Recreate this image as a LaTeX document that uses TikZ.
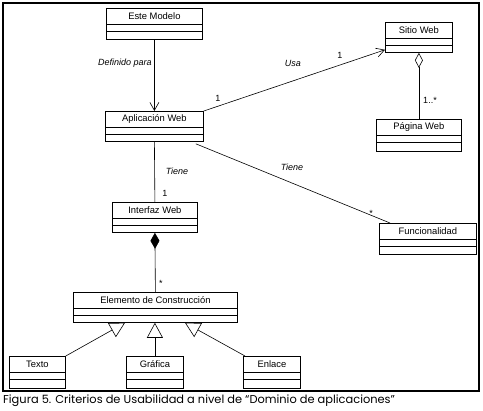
\documentclass[tikz,border=0pt]{standalone}
\usepackage{fontspec}
\setmainfont{Liberation Sans}
\newfontfamily\capfont{Poppins}
\usetikzlibrary{arrows.meta,calc}
\tikzset{
  clsbox/.style={draw, line width=0.8pt, inner sep=0pt, fill=white},
  clsline/.style={line width=0.6pt},
  clstext/.style={font=\fontsize{9.4}{10}\selectfont, inner sep=0pt},
  lbl/.style={font=\fontsize{9}{10}\selectfont, inner sep=0pt},
  ilbl/.style={font=\fontsize{9}{10}\selectfont\itshape, inner sep=0pt},
  conn/.style={line width=0.6pt},
  navarrow/.style={conn, -{Straight Barb[length=8pt,width=9pt,line width=0.6pt]}},
  genarrow/.style={conn, -{Triangle[open,length=15pt,width=16pt,line width=0.6pt]}},
  aggr/.style={conn, {Diamond[open,length=15pt,width=8pt,line width=0.6pt]}-},
  compo/.style={conn, {Diamond[length=16pt,width=9pt]}-},
}
\newcommand\umlcls[6]{%
  \node[clsbox, minimum width={(#4-#2)*1pt}, minimum height={(#5-#3)*1pt}, anchor=north west] (#1) at (#2,#3) {};
  \draw[clsline] ($(#1.north west)+(0,16)$) -- ($(#1.north east)+(0,16)$);
  \draw[clsline] ($(#1.north west)+(0,23)$) -- ($(#1.north east)+(0,23)$);
  \node[clstext] (#1t) at ($(#1.north)+(0,8.5)$) {#6};
}
\begin{document}
\begin{tikzpicture}[x=1pt,y=-1pt]
\useasboundingbox (0,0) rectangle (483,411);
\draw[line width=1.3pt] (3,3) rectangle (479,391);

\umlcls{em}{106}{8}{202}{39}{Este Modelo}
\umlcls{aw}{105}{111}{203}{141}{Aplicación Web}
\umlcls{sw}{385}{22}{452}{52}{Sitio Web}
\umlcls{pw}{376}{119}{461}{151}{Página Web}
\umlcls{iw}{112}{202}{197}{232}{Interfaz Web}
\umlcls{fu}{379}{223}{476}{254}{Funcionalidad}
\umlcls{ec}{73}{292}{237}{322}{Elemento de Construcción}
\umlcls{tx}{9}{356}{65}{388}{Texto}
\umlcls{gr}{126}{356}{183}{388}{Gráfica}
\umlcls{en}{243}{356}{300}{388}{Enlace}

% Este Modelo -> Aplicacion Web
\draw[navarrow] (em.south) -- (aw.north);
\node[ilbl] (l1) at (125,63) {Definido para};

% Aplicacion Web -> Sitio Web
\draw[navarrow] (aw.north east) -- ($(sw.south west)+(0,-3)$);
\node[ilbl] (l2) at (293,63) {Usa};
\node[lbl] (l3) at (218,98) {1};
\node[lbl] (l4) at (340,55) {1};

% Sitio Web <>- Pagina Web
\draw[aggr] (sw.south) -- (pw.north);
\node[lbl] (l5) at (430,100) {1..*};

% Aplicacion Web - Interfaz Web
\draw[conn] (aw.south) -- (iw.north);
\node[ilbl] (l6) at (177,171) {Tiene};
\node[lbl] (l7) at (165,193) {1};

% Aplicacion Web - Funcionalidad
\draw[conn] ($(aw.south east)+(-8,2)$) -- ($(fu.north west)+(11,0)$);
\node[ilbl] (l8) at (292,167) {Tiene};
\node[lbl] (l9) at (371,213) {*};

% Interfaz Web <#>- Elemento
\draw[compo] (iw.south) -- (ec.north);
\node[lbl] (l10) at (161,283) {*};

% Generalizations
\draw[genarrow] (tx.north east) -- ($(ec.south west)+(52,0)$);
\draw[genarrow] (gr.north) -- (gr.north |- ec.south);
\draw[genarrow] ($(en.north west)+(2,0)$) -- ($(ec.south west)+(112,0)$);

% Caption
\node[font=\capfont\fontsize{11.4}{13}\selectfont, anchor=west, inner sep=0pt] (cap) at (3,401) {Figura 5. Criterios de Usabilidad a nivel de “Dominio de aplicaciones”};
\end{tikzpicture}
\end{document}
